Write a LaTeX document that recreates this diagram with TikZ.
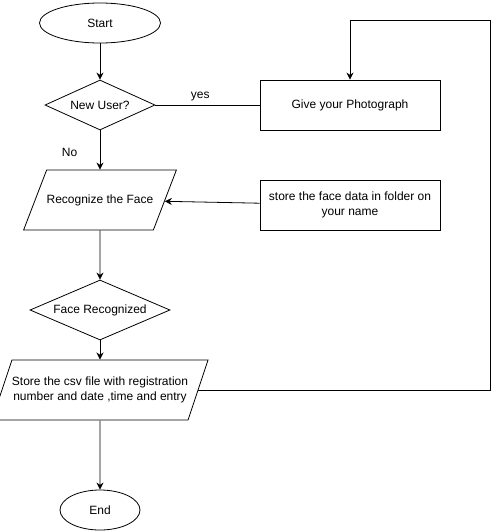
\documentclass[tikz,border=0pt]{standalone}
\usepackage{fontspec}
\setmainfont{Liberation Sans}
\usetikzlibrary{shapes.geometric, arrows.meta}

\begin{document}
\begin{tikzpicture}[x=1pt, y=-1pt, >={Stealth[length=7pt, width=7pt]},
    every node/.style={font=\fontsize{12}{15}\selectfont},
    terminal/.style={draw, thick, ellipse, minimum height=40},
    decision/.style={draw, thick, diamond, aspect=2.3, inner sep=0pt},
    process/.style={draw, thick, rectangle, minimum width=180, minimum height=50, align=center},
    inout/.style={draw, thick, trapezium, trapezium stretches body, inner xsep=0pt, align=center}]
    \useasboundingbox (0, 0) rectangle (493, 531);

    \node[terminal, minimum width=121] at (100, 23) (start) {Start};
    \node[decision, minimum width=110, minimum height=50] at (100, 105) (newuser) {New User?};
    \node[process] at (350, 105) (photo) {Give your Photograph};
    \node[inout, minimum width=140, text height=8.7pt, text depth=2.5pt, inner ysep=24.4pt,
        trapezium left angle=69, trapezium right angle=111] at (100, 200) (recog) {Recognize the Face};
    \node[process] at (350, 205) (storeface) {store the face data in folder on\\your name};
    \node[decision, minimum width=140, minimum height=60] at (100, 310) (facerec) {Face Recognized};
    \node[inout, minimum width=200, inner ysep=17pt,
        trapezium left angle=71.6, trapezium right angle=108.4] at (100, 390) (csv) {Store the csv file with registration\\number and date ,time and entry};
    \node[terminal, minimum width=80] at (100, 510) (end) {End};
    \coordinate (loopturn) at (490, 20);

    \draw[->, thick] (start) -- (newuser);
    \draw[thick] (newuser) -- node[above, pos=0.43] {yes} (photo);
    \draw[->, thick] (newuser) -- node[left=19pt, pos=0.55] {No} (recog);
    \draw[->, thick] (storeface) -- (recog);
    \draw[->, thick] (recog) -- (facerec);
    \draw[->, thick] (facerec) -- (csv);
    \draw[->, thick] (csv) -- (end);
    \draw[->, thick] (csv.east) -| (loopturn) -| (photo.north);
\end{tikzpicture}
\end{document}
